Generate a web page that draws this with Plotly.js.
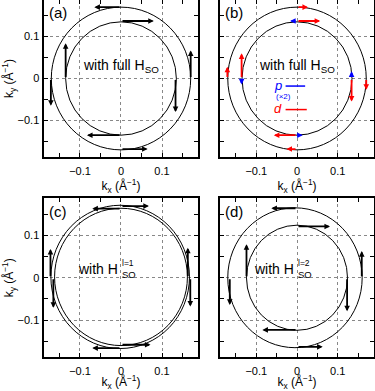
<!DOCTYPE html>
<html>
<head>
<meta charset="utf-8">
<script src="https://cdn.plot.ly/plotly-3.0.1.min.js"></script>
<style>html,body{margin:0;padding:0;background:#fff;}#chart{width:375px;height:391px;}</style>
</head>
<body>
<div id="chart"></div>
<script>
// ---- data (Å^-1) ----
const panels = ['a', 'b', 'c', 'd'];
const panelLabels = ['(a)', '(b)', '(c)', '(d)'];

// circles: radius and centre per panel [outer, inner]
const circleR  = {a: [0.170, 0.135], b: [0.170, 0.135], c: [0.169, 0.162], d: [0.165, 0.124]};
const circleCx = {a: [0, 0], b: [0, 0], c: [-0.002, 0], d: [-0.005, 0]};
const circleCy = {a: [0, 0], b: [0, 0], c: [0.002, 0.002], d: [0, 0]};

// arrows: tail point and vector
const arrA_x  = [0, -0.171, 0, 0.170,   0, -0.135, 0, 0.133];
const arrA_y  = [0.170, 0, -0.168, 0,   0.137, 0, -0.135, 0];
const arrA_dx = [-0.065, 0, 0.065, 0,   0.080, 0, -0.083, 0];
const arrA_dy = [0, -0.065, 0, 0.067,   0, 0.084, 0, -0.080];

const arrBd_x  = [0, -0.171, 0.170, 0,   0, -0.136, 0.134, 0];
const arrBd_y  = [0.170, 0, 0, -0.168,   0.137, 0, 0, -0.135];
const arrBd_dx = [0.027, 0, 0, -0.026,   0.057, 0, 0, -0.057];
const arrBd_dy = [0, 0.028, -0.027, 0,   0, 0.060, -0.055, 0];

const arrBp_x  = [0, -0.136, 0.134, 0];
const arrBp_y  = [0.137, 0, 0, -0.135];
const arrBp_dx = [-0.017, 0, 0, 0.014];
const arrBp_dy = [0, -0.014, 0.017, 0];

const arrC_x  = [0, 0.169, 0, -0.172,   0, -0.165, 0, 0.163];
const arrC_y  = [0.169, 0, -0.166, 0,   0.163, 0, -0.158, 0];
const arrC_dx = [0.068, 0, -0.070, 0,   -0.070, 0, 0.072, 0];
const arrC_dy = [0, -0.068, 0, 0.068,   0, -0.071, 0, 0.071];

const arrD_x  = [0, -0.165, 0, 0.159,   0, -0.124, 0, 0.123];
const arrD_y  = [0.164, 0, -0.163, 0,   0.121, 0, -0.123, 0];
const arrD_dx = [-0.063, 0, 0.063, 0,   0.081, 0, -0.085, 0];
const arrD_dy = [0, -0.064, 0, 0.063,   0, 0.079, 0, -0.079];

const tickVals = [-0.1, 0, 0.1];
const tickText = ['\u22120.1', '0', '0.1'];

// ---- build ----
const FONT = 'Liberation Sans, Arial, Helvetica, sans-serif';
const axRef = {a: ['x', 'y'], b: ['x2', 'y2'], c: ['x3', 'y3'], d: ['x4', 'y4']};
const shapes = [];
const annotations = [];

panels.forEach(p => {
  const [xr, yr] = axRef[p];
  circleR[p].forEach((r, i) => {
    shapes.push({type: 'circle', xref: xr, yref: yr,
      x0: circleCx[p][i] - r, x1: circleCx[p][i] + r,
      y0: circleCy[p][i] - r, y1: circleCy[p][i] + r,
      line: {color: '#000', width: 1}, layer: 'above'});
  });
});

function addArrows(xr, yr, xs, ys, dxs, dys, color) {
  xs.forEach((x0, i) => {
    annotations.push({xref: xr, yref: yr, axref: xr, ayref: yr,
      x: x0 + dxs[i], y: ys[i] + dys[i], ax: x0, ay: ys[i],
      text: '', showarrow: true, arrowhead: 2, arrowsize: 0.62, arrowwidth: 1.8,
      arrowcolor: color, standoff: 0, startstandoff: 0});
  });
}
addArrows('x', 'y', arrA_x, arrA_y, arrA_dx, arrA_dy, '#000');
addArrows('x2', 'y2', arrBd_x, arrBd_y, arrBd_dx, arrBd_dy, '#ff0000');
addArrows('x2', 'y2', arrBp_x, arrBp_y, arrBp_dx, arrBp_dy, '#0000ff');
addArrows('x3', 'y3', arrC_x, arrC_y, arrC_dx, arrC_dy, '#000');
addArrows('x4', 'y4', arrD_x, arrD_y, arrD_dx, arrD_dy, '#000');

// panel labels
panels.forEach((p, i) => {
  const [xr, yr] = axRef[p];
  annotations.push({xref: xr + ' domain', yref: yr + ' domain', x: 0.02, y: 0.985,
    xanchor: 'left', yanchor: 'top', showarrow: false, text: panelLabels[i],
    font: {family: FONT, size: 15, color: '#000'}});
});

// central texts
['x', 'x2'].forEach((xr, i) => {
  const yr = ['y', 'y2'][i];
  annotations.push({xref: xr, yref: yr, x: 0, y: 0.03, showarrow: false,
    text: 'with full H<sub>SO</sub>', font: {family: FONT, size: 14, color: '#000'}});
});
[['x3', 'y3', 'l=1'], ['x4', 'y4', 'l=2']].forEach(([xr, yr, sup]) => {
  annotations.push({xref: xr, yref: yr, x: -0.003, y: 0.02, xanchor: 'right', showarrow: false,
    text: 'with H', font: {family: FONT, size: 14, color: '#000'}});
  annotations.push({xref: xr, yref: yr, x: -0.002, y: 0.035, xanchor: 'left', showarrow: false,
    text: sup, font: {family: FONT, size: 8.5, color: '#000'}});
  annotations.push({xref: xr, yref: yr, x: -0.002, y: 0.008, xanchor: 'left', showarrow: false,
    text: 'SO', font: {family: FONT, size: 9.5, color: '#000'}});
});

// legend in (b)
shapes.push({type: 'line', xref: 'x2', yref: 'y2', x0: -0.028, x1: 0.020, y0: -0.018, y1: -0.018,
  line: {color: '#0000ff', width: 1.5}});
shapes.push({type: 'line', xref: 'x2', yref: 'y2', x0: -0.028, x1: 0.024, y0: -0.074, y1: -0.074,
  line: {color: '#ff0000', width: 1.5}});
annotations.push({xref: 'x2', yref: 'y2', x: -0.032, y: -0.016, xanchor: 'right', showarrow: false,
  text: '<i>p</i>', font: {family: FONT, size: 13, color: '#0000ff'}});
annotations.push({xref: 'x2', yref: 'y2', x: -0.034, y: -0.044, showarrow: false,
  text: '(\u00d72)', font: {family: FONT, size: 8, color: '#0000ff'}});
annotations.push({xref: 'x2', yref: 'y2', x: -0.033, y: -0.071, xanchor: 'right', showarrow: false,
  text: '<i>d</i>', font: {family: FONT, size: 13, color: '#ff0000'}});

function xaxis(domain, anchor) {
  return {domain: domain, anchor: anchor, range: [-0.189, 0.189],
    showline: true, linecolor: '#000', linewidth: 2, mirror: 'ticks',
    ticks: 'inside', ticklen: 4, tickcolor: '#000', tickwidth: 1,
    tickvals: tickVals, ticktext: tickText, ticklabelstandoff: 3,
    minor: {dtick: 0.05, tick0: 0, ticks: 'inside', ticklen: 4, tickcolor: '#000', showgrid: false},
    showgrid: true, gridcolor: '#888', griddash: 'dot', gridwidth: 1, zeroline: false,
    tickfont: {family: FONT, size: 11, color: '#000'},
    title: {text: 'k<sub>x</sub> (Å<sup>\u22121</sup>)', font: {family: FONT, size: 12, color: '#000'}, standoff: 4},
    automargin: false, fixedrange: true};
}
function yaxis(domain, anchor, labels) {
  const ax = {domain: domain, anchor: anchor, range: [-0.187, 0.187],
    showline: true, linecolor: '#000', linewidth: 2, mirror: 'ticks',
    ticks: 'inside', ticklen: 4, tickcolor: '#000', tickwidth: 1,
    tickvals: tickVals, ticktext: tickText, showticklabels: labels,
    minor: {dtick: 0.05, tick0: 0, ticks: 'inside', ticklen: 4, tickcolor: '#000', showgrid: false},
    showgrid: true, gridcolor: '#888', griddash: 'dot', gridwidth: 1, zeroline: false,
    tickfont: {family: FONT, size: 11, color: '#000'},
    automargin: false, fixedrange: true};
  if (labels) ax.title = {text: 'k<sub>y</sub> (Å<sup>\u22121</sup>)', font: {family: FONT, size: 12, color: '#000'}, standoff: 6};
  return ax;
}

// plot area is 375 x 371 px (bottom margin 20 px for the lowest axis titles)
const xdL = [0.116, 0.5293], xdR = [0.5867, 0.9973];
const ydT = [0.5768, 1.0], ydB = [0.0377, 0.4650];

const layout = {
  width: 375, height: 391,
  margin: {l: 0, r: 0, t: 0, b: 20},
  paper_bgcolor: '#fff', plot_bgcolor: '#fff',
  showlegend: false,
  xaxis: xaxis(xdL, 'y'), yaxis: yaxis(ydT, 'x', true),
  xaxis2: xaxis(xdR, 'y2'), yaxis2: yaxis(ydT, 'x2', false),
  xaxis3: xaxis(xdL, 'y3'), yaxis3: yaxis(ydB, 'x3', true),
  xaxis4: xaxis(xdR, 'y4'), yaxis4: yaxis(ydB, 'x4', false),
  shapes: shapes, annotations: annotations
};

// empty traces so each axis pair is instantiated
const data = panels.map(p => ({x: [], y: [], type: 'scatter', mode: 'lines',
  xaxis: axRef[p][0], yaxis: axRef[p][1], hoverinfo: 'skip'}));

Plotly.newPlot('chart', data, layout, {displayModeBar: false, staticPlot: true});
</script>
</body>
</html>
